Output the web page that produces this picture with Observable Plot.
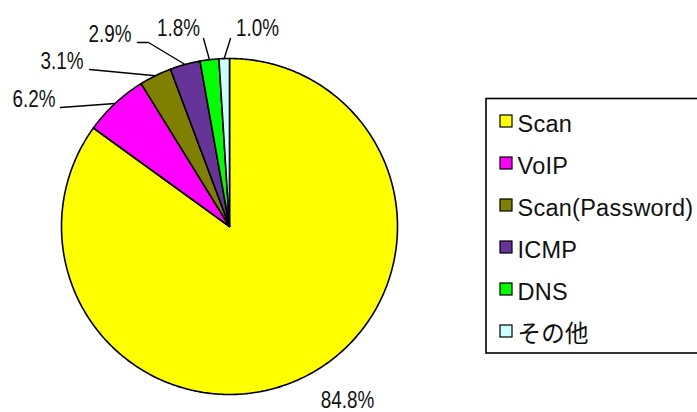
<!DOCTYPE html>
<html><head><meta charset="utf-8">
<script src="https://cdn.jsdelivr.net/npm/d3@7"></script>
<script src="https://cdn.jsdelivr.net/npm/@observablehq/plot@0.6"></script>
<style>html,body{margin:0;padding:0;background:#fff}svg{display:block}</style>
</head><body><div id="chart"></div>
<script>
const categories = ["Scan", "VoIP", "Scan(Password)", "ICMP", "DNS", "その他"];
const values = [84.8, 6.2, 3.1, 2.9, 1.8, 1.0];
const valueLabels = ["84.8%", "6.2%", "3.1%", "2.9%", "1.8%", "1.0%"];
const colors = ["#ffff00", "#ff00ff", "#808000", "#663399", "#00ff00", "#ccffff"];

// ---- layout (not data) ----
const W = 697, H = 412, CX = 229, CY = 226, R = 168;
// label text anchor point (baseline) and leader-line bend/end points per slice
const labelLayout = [
  {x: 347, y: 407, anchor: "middle", leader: []},
  {x: 55, y: 106, anchor: "end", leader: [[60, 107]]},
  {x: 83, y: 68, anchor: "end", leader: [[89, 69]]},
  {x: 131, y: 41, anchor: "end", leader: [[148, 42], [137, 42]]},
  {x: 178, y: 35, anchor: "middle", leader: [[203, 38]]},
  {x: 257, y: 35, anchor: "middle", leader: [[230, 38]]}
];
const legendTop = 121, legendStep = 42;

const arcs = d3.pie().sort(null).value(d => d)(values);

const slicePts = [];
arcs.forEach((p, i) => {
  slicePts.push({k: i, x: CX, y: CY});
  const n = Math.max(2, Math.ceil((p.endAngle - p.startAngle) / 0.01));
  for (let j = 0; j <= n; j++) {
    const a = p.startAngle + (p.endAngle - p.startAngle) * j / n;
    slicePts.push({k: i, x: CX + R * Math.sin(a), y: CY - R * Math.cos(a)});
  }
  slicePts.push({k: i, x: CX, y: CY});
});

const leaderPts = [];
arcs.forEach((p, i) => {
  const L = labelLayout[i];
  if (!L.leader.length) return;
  const m = (p.startAngle + p.endAngle) / 2;
  leaderPts.push({k: i, x: CX + R * Math.sin(m), y: CY - R * Math.cos(m)});
  L.leader.forEach(([x, y]) => leaderPts.push({k: i, x, y}));
});

const pctFont = "'Liberation Sans', Arial, sans-serif";
const legFont = "'Liberation Sans', Arial, 'Noto Sans CJK JP', sans-serif";

const pctOpts = anchor => ({
  filter: (d, i) => labelLayout[i].anchor === anchor,
  x: (d, i) => labelLayout[i].x, y: (d, i) => labelLayout[i].y, text: d => d,
  textAnchor: anchor, lineAnchor: "bottom", fontSize: 23, fontFamily: pctFont, fill: "#111"
});

const chart = Plot.plot({
  width: W, height: H, margin: 0,
  x: {domain: [0, W], range: [0, W], axis: null},
  y: {domain: [0, H], range: [0, H], axis: null},
  color: {domain: categories, range: colors},
  marks: [
    Plot.line(slicePts, {x: "x", y: "y", z: "k", fill: d => categories[d.k], stroke: "black", strokeWidth: 1.6, strokeLinejoin: "round", curve: "linear"}),
    Plot.line(leaderPts, {x: "x", y: "y", z: "k", stroke: "black", strokeWidth: 1.4, curve: "linear"}),
    Plot.text(valueLabels, pctOpts("end")),
    Plot.text(valueLabels, pctOpts("middle")),
    Plot.rect([0], {x1: 486, x2: 720, y1: 98.5, y2: 353, fill: "white", stroke: "black", strokeWidth: 1.6}),
    Plot.rect(categories, {x1: 500, x2: 512, y1: (d, i) => legendTop + i * legendStep - 6, y2: (d, i) => legendTop + i * legendStep + 6,
      fill: d => d, stroke: "black", strokeWidth: 1.2}),
    Plot.text(categories, {x: 517, y: (d, i) => legendTop + i * legendStep, text: d => d, textAnchor: "start",
      dy: 3, fontSize: 23.5, fontFamily: legFont, fill: "#111"})
  ]
});
// condense percentage labels horizontally (narrow gothic look)
const allTexts = Array.from(chart.querySelectorAll("text"));
allTexts.filter(t => valueLabels.includes(t.textContent)).forEach(el => {
  const t = el.getAttribute("transform") || "";
  const xv = +el.getAttribute("x") || 0, yv = +el.getAttribute("y") || 0;
  el.removeAttribute("x"); el.removeAttribute("y");
  el.setAttribute("transform", `${t} translate(${xv},${yv}) scale(0.82,1)`);
});
allTexts.filter(t => categories.includes(t.textContent)).forEach(el => el.setAttribute("letter-spacing", "0.25"));
document.getElementById("chart").appendChild(chart);
</script>
</body></html>
